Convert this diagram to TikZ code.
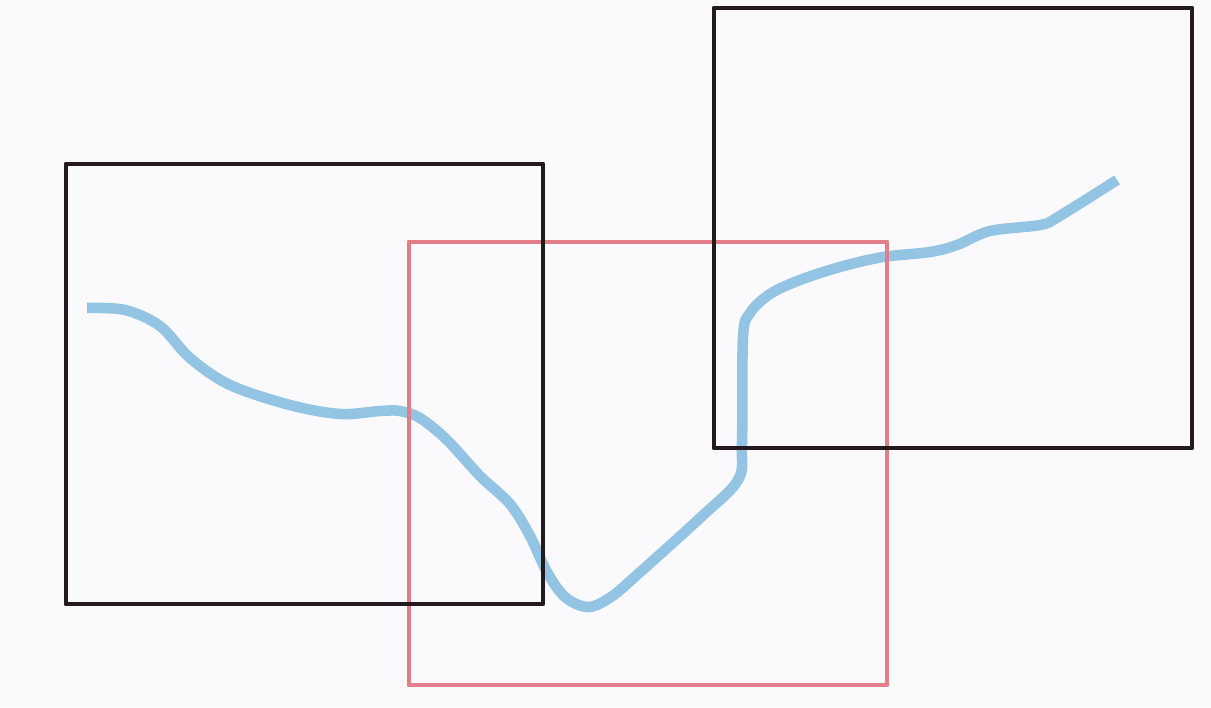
\documentclass[tikz,border=0pt]{standalone}
\definecolor{bgc}{RGB}{250,250,253}
\definecolor{boxblack}{RGB}{35,26,30}
\definecolor{boxred}{RGB}{226,126,136}
\definecolor{riverblue}{RGB}{148,196,227}
\tikzset{
  blackbox/.style={draw=boxblack,line width=2.8pt,line join=round},
  redbox/.style={draw=boxred,line width=2.8pt,line join=round},
  river/.style={draw=riverblue,line width=6pt,line cap=butt,line join=round}
}
\begin{document}
\begin{tikzpicture}[x=0.02cm,y=-0.02cm]
\fill[bgc] (0,0) rectangle (1211,707);
\useasboundingbox (0,0) rectangle (1211,707);
\draw[river] plot[smooth,tension=0.55] coordinates {
 (87,308) (125,310) (160,326) (190,358) (230,385) (290,405) (340,414) (380,411) (400,411)
 (420,418) (447,440) (480,476) (510,504) (530,536) (547,572) (565,597) (588,607)
 (611,597) (638,574) (700,518) (738,480) (742,443) (743,337) (750,313) (770,294)
 (800,280) (840,267) (883,257) (930,252) (957,245) (990,231) (1040,225) (1058,217) (1117,180)};
\draw[redbox] (409,242) rectangle (887,685);
\draw[blackbox] (66,164) rectangle (543,604);
\draw[blackbox] (714,8) rectangle (1192,448);
\end{tikzpicture}
\end{document}
